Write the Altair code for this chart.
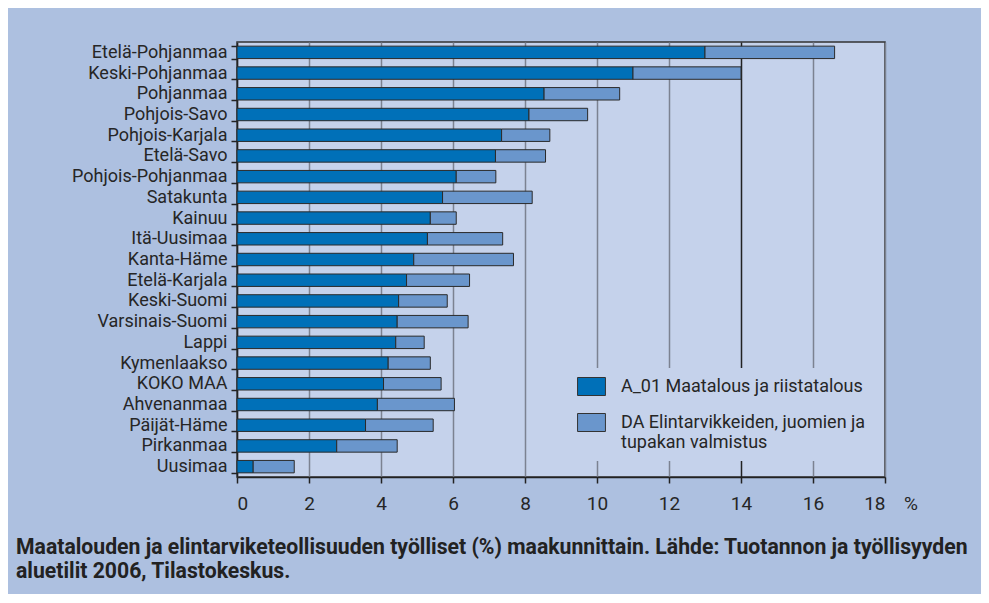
import altair as alt
import pandas as pd

regions = ["Etelä-Pohjanmaa", "Keski-Pohjanmaa", "Pohjanmaa", "Pohjois-Savo",
           "Pohjois-Karjala", "Etelä-Savo", "Pohjois-Pohjanmaa", "Satakunta",
           "Kainuu", "Itä-Uusimaa", "Kanta-Häme", "Etelä-Karjala", "Keski-Suomi",
           "Varsinais-Suomi", "Lappi", "Kymenlaakso", "KOKO MAA", "Ahvenanmaa",
           "Päijät-Häme", "Pirkanmaa", "Uusimaa"]
a01 = [13.0, 11.0, 8.53, 8.11, 7.35, 7.18, 6.09, 5.71, 5.37, 5.29, 4.91, 4.71,
       4.49, 4.45, 4.41, 4.20, 4.07, 3.90, 3.57, 2.77, 0.45]
da = [3.6, 3.0, 2.10, 1.63, 1.34, 1.39, 1.10, 2.49, 0.72, 2.09, 2.77, 1.75,
      1.35, 1.97, 0.79, 1.17, 1.60, 2.14, 1.88, 1.68, 1.14]
series = ["A_01 Maatalous ja riistatalous",
          "DA Elintarvikkeiden, juomien ja tupakan valmistus"]
colors = ["#0070b8", "#6a96cc"]
x_ticks = [0, 2, 4, 6, 8, 10, 12, 14, 16, 18]
caption = ["Maatalouden ja elintarviketeollisuuden työlliset (%) maakunnittain. Lähde: Tuotannon ja työllisyyden",
           "aluetilit 2006, Tilastokeskus."]

rows = []
for r, a, d in zip(regions, a01, da):
    rows.append({"region": r, "series": series[0], "value": a, "ord": 0})
    rows.append({"region": r, "series": series[1], "value": d, "ord": 1})
df = pd.DataFrame(rows)

FONT = "Roboto"
W, H = 648, 435

bars = alt.Chart(df).mark_bar(stroke="#2a2a2a", strokeWidth=1).encode(
    y=alt.Y("region:N", sort=regions, title=None,
            scale=alt.Scale(paddingInner=0.4, paddingOuter=0.2),
            axis=alt.Axis(tickBand="extent", tickSize=6, labelPadding=4,
                          labelFontSize=18, labelFont=FONT, labelColor="#262626",
                          domainColor="#222", domainWidth=1.5, tickColor="#222",
                          tickWidth=1.5, labelLimit=300)),
    x=alt.X("value:Q", stack="zero", title=None,
            scale=alt.Scale(domain=[0, 18], nice=False),
            axis=alt.Axis(values=x_ticks, tickSize=6, labelPadding=11,
                          labelFontSize=19, labelFont=FONT, labelColor="#262626",
                          domainColor="#222", domainWidth=1.5, tickColor="#222",
                          tickWidth=1.5, grid=True, gridWidth=1.5,
                          gridColor=alt.condition("datum.value == 14", alt.value("#222222"), alt.value("#7c8291")))),
    color=alt.Color("series:N", scale=alt.Scale(domain=series, range=colors),
                    legend=alt.Legend(
                        title=None, orient="none", legendX=336, legendY=326,
                        fillColor="#c5d2eb", padding=9,
                        symbolType="M-1.55,-1H1.55V1H-1.55Z", symbolSize=324,
                        symbolStrokeColor="#333", symbolStrokeWidth=1,
                        symbolOpacity=1,
                        labelFont=FONT, labelFontSize=18, labelColor="#262626",
                        labelLimit=400, labelOffset=20, rowPadding=13,
                        labelExpr="datum.label == '" + series[1] + "' ? ['DA Elintarvikkeiden, juomien ja', 'tupakan valmistus'] : datum.label")),
    order=alt.Order("ord:Q"),
)

cap_df = pd.DataFrame({"t": caption, "line": [0, 1]})
cap = alt.Chart(cap_df).mark_text(align="left", baseline="alphabetic", font=FONT,
                                  fontSize=21.2, fontWeight="bold", color="#222").encode(
    text="t:N",
    x=alt.value(-221),
    y=alt.Y("line:Q", scale=alt.Scale(domain=[0, 1], range=[512, 536]), axis=None),
)

pct = alt.Chart(pd.DataFrame({"t": ["%"]})).mark_text(
    align="left", baseline="alphabetic", font=FONT, fontSize=19, color="#262626").encode(
    text="t:N", x=alt.value(667), y=alt.value(468))

chart = alt.layer(bars, cap, pct).resolve_scale(y="independent").properties(
    width=W, height=H,
    autosize=alt.AutoSizeParams(type="none"),
    padding={"left": 229, "top": 34, "right": 96, "bottom": 117},
    background="#adc0e0",
).configure_view(fill="#c5d2eb", stroke="#333", strokeWidth=1.5)

chart.save("out.html", embed_options={"renderer": "svg", "actions": False})
